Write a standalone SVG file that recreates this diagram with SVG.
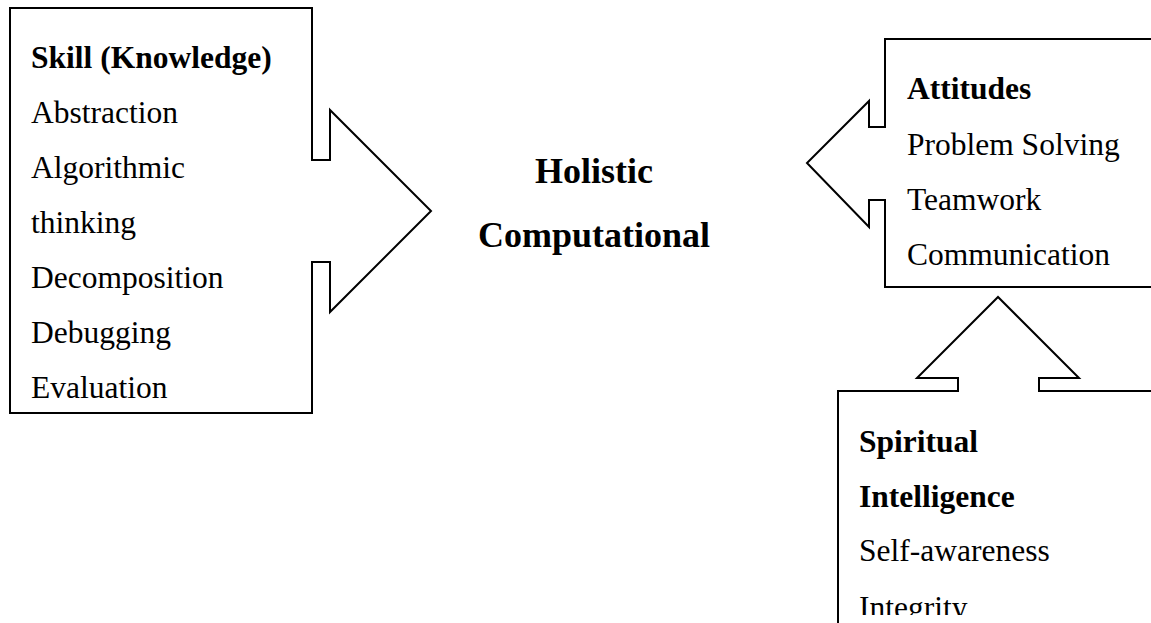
<svg xmlns="http://www.w3.org/2000/svg" width="1151" height="623" viewBox="0 0 1151 623">
  <style>
    .callout { fill: #ffffff; stroke: #000000; stroke-width: 2; stroke-linejoin: miter; }
    .txt { font-family: "Liberation Serif", "Times New Roman", serif; font-size: 31.5px; fill: #000000; }
    .b { font-weight: bold; }
    .title { font-family: "Liberation Serif", "Times New Roman", serif; font-size: 36px; font-weight: bold; fill: #000000; text-anchor: middle; }
  </style>
  <defs>
    <clipPath id="spiritClip">
      <rect x="838" y="391" width="320" height="224"/>
    </clipPath>
  </defs>
  <rect width="1151" height="623" fill="#ffffff"/>

  <!-- Right-arrow callout: skills -->
  <g id="skill">
    <path class="callout" d="M10,8 H312 V160 H330 V110 L431,211 L330,312 V262 H312 V413 H10 Z"/>
    <text class="txt b" x="31" y="68">Skill (Knowledge)</text>
    <text class="txt" x="31" y="123">Abstraction</text>
    <text class="txt" x="31" y="178">Algorithmic</text>
    <text class="txt" x="31" y="233">thinking</text>
    <text class="txt" x="31" y="288">Decomposition</text>
    <text class="txt" x="31" y="343">Debugging</text>
    <text class="txt" x="31" y="398">Evaluation</text>
  </g>

  <!-- Central label -->
  <g id="holistic">
    <text class="title" x="594" y="183">Holistic</text>
    <text class="title" x="594" y="247">Computational</text>
  </g>

  <!-- Left-arrow callout: attitudes -->
  <g id="attitudes">
    <path class="callout" d="M1160,39 H885 V127 H869 V101 L807,163 L869,227 V200 H885 V287 H1160"/>
    <text class="txt b" x="907" y="99">Attitudes</text>
    <text class="txt" x="907" y="155">Problem Solving</text>
    <text class="txt" x="907" y="210">Teamwork</text>
    <text class="txt" x="907" y="265">Communication</text>
  </g>

  <!-- Up-arrow callout: spiritual intelligence -->
  <g id="spiritual">
    <path class="callout" d="M838,630 V391 H958 V378 H917 L998,297 L1079,378 H1039 V391 H1160"/>
    <g clip-path="url(#spiritClip)">
      <text class="txt b" x="859" y="452">Spiritual</text>
      <text class="txt b" x="859" y="507">Intelligence</text>
      <text class="txt" x="859" y="561">Self-awareness</text>
      <text class="txt" x="859" y="618">Integrity</text>
    </g>
  </g>
</svg>
